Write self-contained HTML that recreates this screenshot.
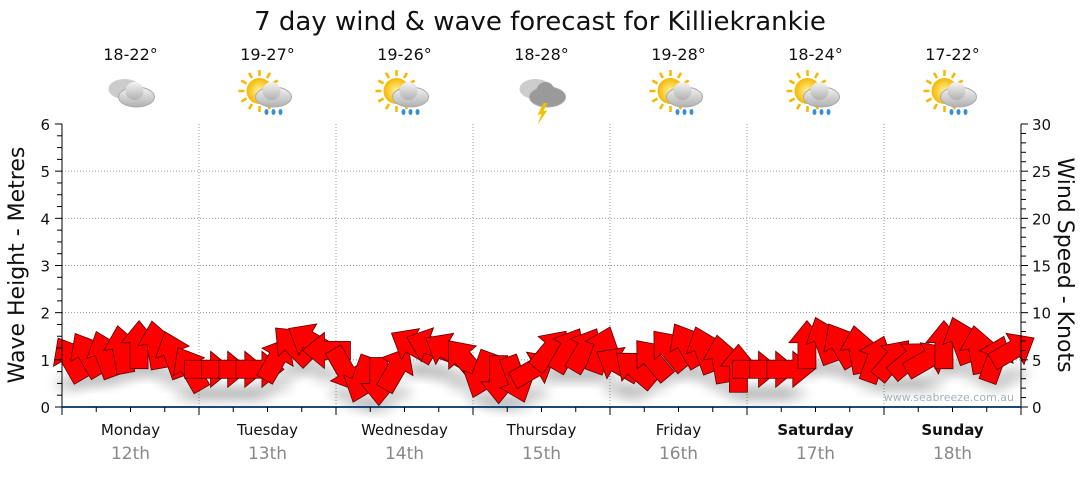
<!DOCTYPE html>
<html><head><meta charset="utf-8"><style>
body{margin:0;background:#fff;font-family:"Liberation Sans",sans-serif}
svg text{font-family:"DejaVu Sans","Liberation Sans",sans-serif}
</style></head><body>
<svg id="c" width="1080" height="475" xmlns="http://www.w3.org/2000/svg">
<defs>
<filter id="sh" x="-50%" y="-50%" width="200%" height="200%"><feGaussianBlur stdDeviation="6"/></filter>
<radialGradient id="sun"><stop offset="0" stop-color="#fff3a0"/><stop offset="1" stop-color="#f5b800"/></radialGradient>
<linearGradient id="cl" x1="0" y1="0" x2="0" y2="1"><stop offset="0" stop-color="#f4f4f4"/><stop offset="1" stop-color="#b0b0b0"/></linearGradient>
</defs>
<text x="540" y="30" font-size="26" text-anchor="middle" fill="#111">7 day wind &amp; wave forecast for Killiekrankie</text>
<g id="grid"></g><g id="shadow"></g><g id="arrows"></g><g id="axes"></g><g id="top"></g>
<text x="1014" y="401" font-size="11" fill="#a8b0bb" text-anchor="end">www.seabreeze.com.au</text>
<text transform="translate(24,265) rotate(-90)" font-size="22" text-anchor="middle" fill="#111">Wave Height - Metres</text>
<text transform="translate(1058,265) rotate(90)" font-size="22" text-anchor="middle" fill="#111">Wind Speed - Knots</text>
</svg>
<script>
const days=["Monday","Tuesday","Wednesday","Thursday","Friday","Saturday","Sunday"];
const dates=["12th","13th","14th","15th","16th","17th","18th"];
const temps=["18-22°","19-27°","19-26°","18-28°","19-28°","18-24°","17-22°"];
const icons=["cloud","sunrain","sunrain","storm","sunrain","sunrain","sunrain"];
const waveTicks=[0,1,2,3,4,5,6];
const windTicks=[0,5,10,15,20,25,30];
const windSpeed=[5,5.5,5.5,6,6.5,6.5,5.5,4, 4,4,4,4,5,6.5,7,6, 4,3,2.8,4,6.5,6.5,6,5, 3.5,3,3,4,6,6,6,6, 4.5,4,5,6,6.5,6,5,4, 4,4,4,6.5,7,6.5,6,5, 5,5,5,6.5,7,6,5,6];
const windDir=[-30,-30,-20,-10,0,-10,-20,-30, 90,90,90,90,30,-45,-60,-90, 150,200,180,30,-60,-70,-60,-40, 200,180,160,60,40,30,30,20, -60,-50,-40,-40,-30,-20,-10,0, 90,90,90,0,-20,-30,-10,20, 40,50,60,0,-20,-10,20,60];
const NS="http://www.w3.org/2000/svg";
const X0=62,X1=1021,Y0=407,YT=124;
const dayW=(X1-X0)/7;
const xT=h=>X0+h/(168)*(X1-X0);
const yW=v=>Y0-v/6*(Y0-YT);
const yK=v=>Y0-v/30*(Y0-YT);
function mk(p,t,a){const e=document.createElementNS(NS,t);for(const k in a)e.setAttribute(k,a[k]);p.appendChild(e);return e;}
const G=id=>document.getElementById(id);
waveTicks.slice(1,6).forEach(v=>{const l=mk(G('grid'),'line',{x1:X0,x2:X1,y1:yW(v),y2:yW(v),stroke:'#999','stroke-dasharray':'1,2'});

});
for(let d=1;d<7;d++){const l=mk(G('grid'),'line',{x1:X0+d*dayW,x2:X0+d*dayW,y1:YT,y2:Y0,stroke:'#999','stroke-dasharray':'1,2'});

}
const ax=G('axes');
mk(ax,'line',{x1:X0,x2:X0,y1:YT,y2:Y0,stroke:'#000'});
mk(ax,'line',{x1:X1,x2:X1,y1:YT,y2:Y0,stroke:'#000'});
mk(ax,'line',{x1:X0,x2:X1,y1:Y0,y2:Y0,stroke:'#1a4a7a','stroke-width':2});
mk(ax,'line',{x1:X0-7,x2:X0,y1:Y0,y2:Y0,stroke:'#000'});
for(let v=0;v<=6.001;v+=0.25){const maj=Math.abs(v-Math.round(v))<1e-6;mk(ax,'line',{x1:X0-(maj?7:5),x2:X0,y1:yW(v),y2:yW(v),stroke:'#000'});}
for(let v=0;v<=30;v++){const maj=v%5==0;mk(ax,'line',{x1:X1,x2:X1+(maj?7:5),y1:yK(v),y2:yK(v),stroke:'#000'});}
waveTicks.forEach(v=>{const t=mk(ax,'text',{x:X0-12,y:yW(v)+6,'font-size':15,'text-anchor':'end',fill:'#111'});t.textContent=v;

});
windTicks.forEach(v=>{const t=mk(ax,'text',{x:X1+11,y:yK(v)+6,'font-size':15,fill:'#111'});t.textContent=v;

});
for(let h=0;h<=168;h+=6){const maj=h%24==0;mk(ax,'line',{x1:xT(h),x2:xT(h),y1:Y0,y2:Y0+(maj?8:5),stroke:'#000'});}
function icon(g,type,cx,cy){
 if(type!="cloud"&&type!="storm"){mk(g,'circle',{cx:cx-8,cy:cy-4,r:13,fill:'url(#sun)'});
  for(let i=0;i<12;i++){const a=i*Math.PI/6;mk(g,'line',{x1:cx-8+Math.cos(a)*15,y1:cy-4+Math.sin(a)*15,x2:cx-8+Math.cos(a)*21,y2:cy-4+Math.sin(a)*21,stroke:'#f5b800','stroke-width':2.5});}}
 const c=type=="storm"?'#9a9a9a':'url(#cl)';
 if(type=="cloud"||type=="storm"){mk(g,'ellipse',{cx:cx-6,cy:cy-6,rx:16,ry:10,fill:'#ccc'});}
 mk(g,'ellipse',{cx:cx+6,cy:cy+2,rx:18,ry:10,fill:c,stroke:'#aaa'});
 mk(g,'circle',{cx:cx+4,cy:cy-4,r:9,fill:c});
 if(type=="sunrain"){for(let i=0;i<3;i++)mk(g,'ellipse',{cx:cx+i*7-1,cy:cy+17,rx:2,ry:3,fill:'#3a8fd0'});}
 if(type=="storm"){mk(g,'polygon',{points:`${cx+2},${cy+8} ${cx-4},${cy+20} ${cx},${cy+19} ${cx-4},${cy+30} ${cx+6},${cy+15} ${cx+2},${cy+16} ${cx+6},${cy+8}`,fill:'#f0c000'});}
}
days.forEach((d,i)=>{const cx=X0+(i+0.5)*dayW;const tp=G('top');
 const t=mk(tp,'text',{x:cx,y:435,'font-size':15,'text-anchor':'middle',fill:'#111','font-weight':i>=5?'bold':'normal'});t.textContent=d;
 
 
 const t2=mk(tp,'text',{x:cx,y:459,'font-size':17,'text-anchor':'middle',fill:'#888'});t2.textContent=dates[i];
 
 
 const t3=mk(tp,'text',{x:cx,y:60,'font-size':16,'text-anchor':'middle',fill:'#111'});t3.textContent=temps[i];
 
 
 const g=mk(tp,'g',{});
 
 icon(g,icons[i],cx,95);
});
const arrowPts="0,-25 18,-3 9,-3 9,23 -9,23 -9,-3 -18,-3";
windSpeed.forEach((s,i)=>{const x=xT(i*3+1.5),y=yK(s);
 mk(G('shadow'),'ellipse',{cx:x,cy:y+24,rx:16,ry:7,fill:'#000',opacity:0.2,filter:'url(#sh)'});
 const p=mk(G('arrows'),'polygon',{points:arrowPts,transform:`translate(${x},${y}) rotate(${windDir[i]})`,fill:'#ff0000',stroke:'#5a0000','stroke-width':0.8});
 
 
});
</script>
</body></html>
